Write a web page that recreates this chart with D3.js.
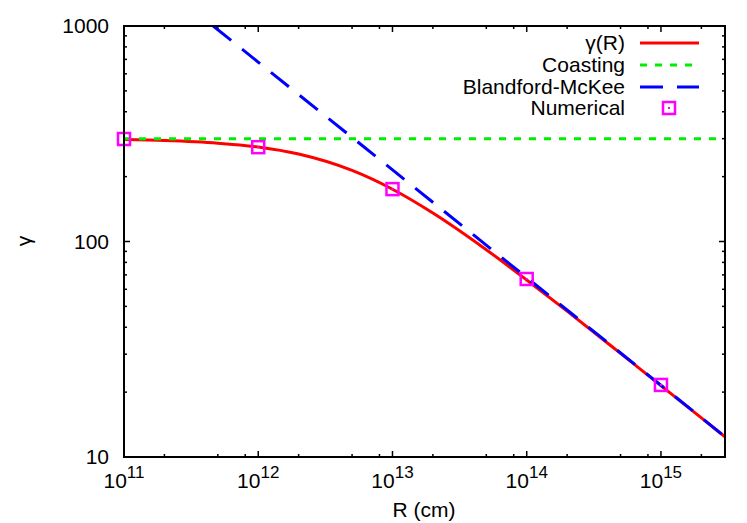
<!DOCTYPE html>
<html><head><meta charset="utf-8">
<script src="https://cdn.jsdelivr.net/npm/d3@7"></script>
<style>body{margin:0;background:#fff}text{font-family:"Liberation Sans",Arial,Helvetica,sans-serif}</style>
</head><body><svg id="c" width="747" height="523"></svg>
<script>
// Data
const curveR     = [1e11, 2e11, 5e11, 1e12, 2e12, 5e12, 1e13, 2e13, 5e13, 1e14, 2e14, 5e14, 1e15, 2e15, 3e15];
const curveGamma = [297, 294, 286, 274.5, 254.5, 213.6, 174.8, 135.6, 91.6, 66.3, 47.5, 30.25, 21.45, 15.18, 12.4];
const coastR     = [1e11, 3e15];
const coastGamma = [300, 300];
const bmR        = [4.62e11, 3e15];
const bmGamma    = [1000, 12.42];
const numR       = [1e11, 1e12, 1e13, 1e14, 1e15];
const numGamma   = [299, 274, 175, 67, 21.6];
const xTickExp   = [11, 12, 13, 14, 15];
const yTickVals  = [10, 100, 1000];
const legendLabels = ["γ(R)", "Coasting", "Blandford-McKee", "Numerical"];

const svg = d3.select("#c");
const L = 124, R = 725, T = 26, B = 457;
const FS = 21;
const x = d3.scaleLog().domain([1e11, 3e15]).range([L, R]);
const y = d3.scaleLog().domain([10, 1000]).range([B, T]);

svg.append("defs").append("clipPath").attr("id","clip")
  .append("rect").attr("x",L).attr("y",T).attr("width",R-L).attr("height",B-T);

// ticks
const tickG = svg.append("g").attr("stroke","#000").attr("stroke-width",1.5);
const xMinorMult = [2,5,8];
for (let e = 11; e <= 15; e++) {
  const v = Math.pow(10,e);
  [[B, -6],[T, 6]].forEach(([yy,d]) => tickG.append("line").attr("x1",x(v)).attr("x2",x(v)).attr("y1",yy).attr("y2",yy+d));
  xMinorMult.forEach(m => {
    const mv = m*v; if (mv > 3e15) return;
    [[B,-3],[T,3]].forEach(([yy,d]) => tickG.append("line").attr("x1",x(mv)).attr("x2",x(mv)).attr("y1",yy).attr("y2",yy+d));
  });
}
for (let e = 1; e <= 3; e++) {
  const v = Math.pow(10,e);
  [[L,6],[R,-6]].forEach(([xx,d]) => tickG.append("line").attr("y1",y(v)).attr("y2",y(v)).attr("x1",xx).attr("x2",xx+d));
  if (e < 3) for (let m = 2; m <= 9; m++) {
    const mv = m*v;
    [[L,3],[R,-3]].forEach(([xx,d]) => tickG.append("line").attr("y1",y(mv)).attr("y2",y(mv)).attr("x1",xx).attr("x2",xx+d));
  }
}

// tick labels
xTickExp.forEach(e => {
  const t = svg.append("text").attr("x", x(Math.pow(10,e))).attr("y", 488)
    .attr("text-anchor","middle").attr("font-size",FS);
  t.append("tspan").text("10");
  t.append("tspan").attr("dy",-10).attr("font-size",17).text(String(e));
});
yTickVals.forEach(v => {
  svg.append("text").attr("x",109).attr("y",y(v)).attr("dy","0.35em")
    .attr("text-anchor","end").attr("font-size",FS).text(String(v));
});

svg.append("text").attr("x",424).attr("y",517).attr("text-anchor","middle").attr("font-size",FS).text("R (cm)");
svg.append("text").attr("transform","translate(31,241) rotate(-90)").attr("text-anchor","middle").attr("font-size",FS).text("γ");

const line = d3.line().x(d=>x(d[0])).y(d=>y(d[1]));
const plot = svg.append("g").attr("clip-path","url(#clip)");
plot.append("path").datum(d3.zip(curveR,curveGamma)).attr("d", line.curve(d3.curveMonotoneX))
  .attr("fill","none").attr("stroke","#ff0000").attr("stroke-width",3);
plot.append("path").datum(d3.zip(coastR,coastGamma)).attr("d", d3.line().x(d=>x(d[0])).y(d=>y(d[1])))
  .attr("fill","none").attr("stroke","#00ee00").attr("stroke-width",3).attr("stroke-dasharray","7,8");
plot.append("path").datum(d3.zip(bmR,bmGamma)).attr("d", d3.line().x(d=>x(d[0])).y(d=>y(d[1])))
  .attr("fill","none").attr("stroke","#0000ff").attr("stroke-width",3).attr("stroke-dasharray","23,14");

function marker(g, cx, cy) {
  g.append("rect").attr("x",cx-6).attr("y",cy-6).attr("width",12).attr("height",12)
    .attr("fill","none").attr("stroke","#ff00ff").attr("stroke-width",2.5);
  g.append("rect").attr("x",cx-1).attr("y",cy-1).attr("width",2).attr("height",2).attr("fill","#ff00ff");
}
const mg = svg.append("g");
d3.zip(numR,numGamma).forEach(d => marker(mg, x(d[0]), y(d[1])));

// frame
svg.append("rect").attr("x",L).attr("y",T).attr("width",R-L).attr("height",B-T)
  .attr("fill","none").attr("stroke","#000").attr("stroke-width",2);

// legend
const legY = [43, 65, 87, 108];
const styles = [
  {c:"#ff0000", d:null},
  {c:"#00ee00", d:"7,8"},
  {c:"#0000ff", d:"23,14"}
];
legendLabels.forEach((lab,i) => {
  svg.append("text").attr("x",625).attr("y",legY[i]).attr("dy","0.35em")
    .attr("text-anchor","end").attr("font-size",FS).text(lab);
  if (i < 3) {
    svg.append("line").attr("x1",640).attr("x2",699).attr("y1",legY[i]).attr("y2",legY[i])
      .attr("stroke",styles[i].c).attr("stroke-width",3).attr("stroke-dasharray",styles[i].d);
  } else marker(svg, 669, legY[i]);
});
</script></body></html>
